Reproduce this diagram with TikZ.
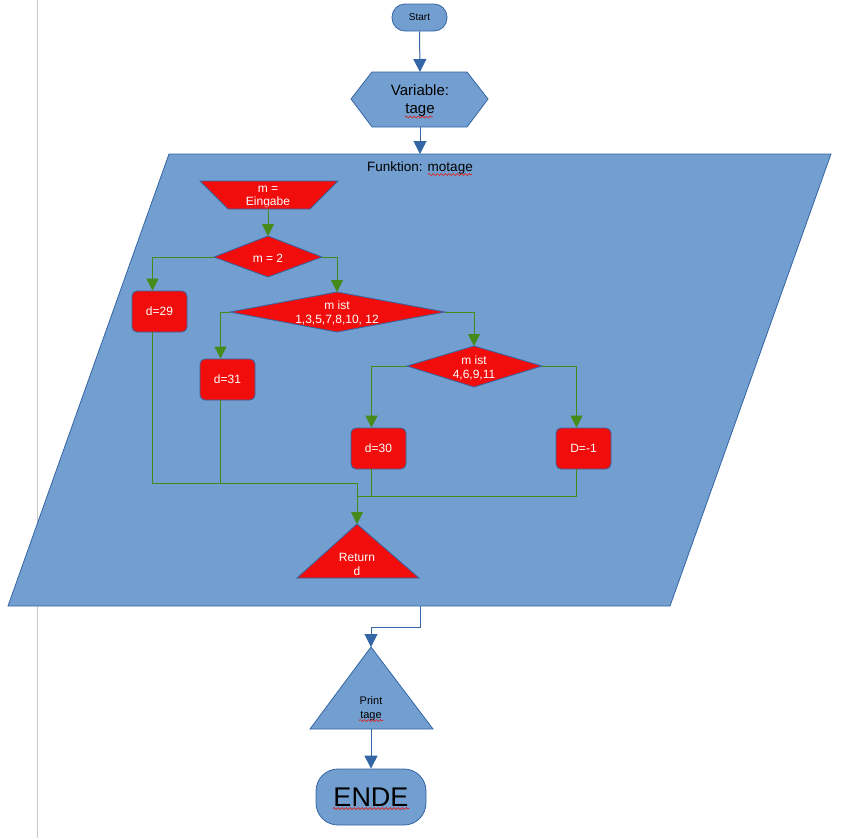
\documentclass[tikz,border=0pt]{standalone}
\usepackage{fontspec}
\setmainfont{Liberation Sans}
\usetikzlibrary{arrows.meta,decorations.pathmorphing}
\definecolor{bfill}{HTML}{729FCF}
\definecolor{bline}{HTML}{3465A4}
\definecolor{rfill}{HTML}{F10D0C}
\definecolor{gline}{HTML}{468A1A}
\definecolor{sqred}{HTML}{E0201B}
\tikzset{
  bshape/.style={fill=bfill,draw=bline,line width=0.8pt},
  rshape/.style={fill=rfill,draw=bline,line width=0.8pt},
  rbox/.style={rshape,rounded corners=5pt,minimum width=55pt,minimum height=41pt,inner sep=0pt,text=white,font=\fontsize{12}{13}\selectfont},
  wtext/.style={text=white,align=center,inner sep=0pt,font=\fontsize{12}{13.5}\selectfont},
  barrow/.style={draw=bline,line width=1pt,-{Triangle[width=13pt,length=13pt]}},
  bline/.style={draw=bline,line width=1pt},
  garrow/.style={draw=gline,line width=1pt,-{Triangle[width=12pt,length=12pt]}},
  gline/.style={draw=gline,line width=1pt},
  squig/.style={draw=sqred,line width=0.7pt,decorate,decoration={snake,amplitude=1pt,segment length=4pt}}
}
\begin{document}
\begin{tikzpicture}[x=1pt,y=-1pt]
\useasboundingbox (0,0) rectangle (849,838);
\fill[white] (0,0) rectangle (849,838);
\draw[black!22,line width=0.8pt] (37,0) -- (37,838);

% Start
\node[bshape,rounded corners=13pt,minimum width=55pt,minimum height=27pt,inner sep=0pt,font=\fontsize{10}{12}\selectfont] (start) at (419.5,17.5) {Start};

% Variable hexagon
\path[bshape] (351,99)--(372,72)--(467,72)--(488,99)--(467,127)--(372,127)--cycle;
\coordinate (vartop) at (420,72);
\coordinate (varbot) at (420,127);
\node[align=center,inner sep=0pt,font=\fontsize{15}{18}\selectfont] (var) at (420,101) {Variable:\\tage};
\draw[squig] (405,117) -- (433,117);
\draw[barrow] (start.south) -- (vartop);

% Function parallelogram
\path[bshape] (169,154)--(831,154)--(670,606)--(8,606)--cycle;
\coordinate (ftop) at (420,154);
\coordinate (fbot) at (420,606);
\node[inner sep=0pt,font=\fontsize{13.5}{15}\selectfont] (flabel) at (420,168) {Funktion: motage};
\draw[squig] (428,174.5) -- (472,174.5);
\draw[barrow] (varbot) -- (ftop);

% m = Eingabe
\path[rshape] (200,181)--(338,181)--(310,209)--(228,209)--cycle;
\coordinate (eintop) at (268,181);
\coordinate (einbot) at (268,209);
\node[wtext] (ein) at (268,197) {m =\\Eingabe};
\draw[squig] (247,207) -- (290,207);

% Diamond m = 2
\path[rshape] (214,257)--(268,236)--(322,257)--(268,277)--cycle;
\coordinate (d1top) at (268,236);
\coordinate (d1l) at (214,257);
\coordinate (d1r) at (322,257);
\node[wtext] (d1) at (268,258) {m = 2};
\draw[garrow] (einbot) -- (d1top);

% d=29
\node[rbox] (d29) at (159.5,311.5) {\raisebox{-1pt}{d=29}};

% Diamond 2
\path[rshape] (230,312)--(337,292)--(445,312)--(337,332)--cycle;
\coordinate (d2top) at (337,292);
\coordinate (d2l) at (230,312);
\coordinate (d2r) at (445,312);
\node[wtext] (d2) at (337,313) {m ist\\1,3,5,7,8,10, 12};

% d=31
\node[rbox] (d31) at (227.5,379.5) {\raisebox{-1pt}{d=31}};

% Diamond 3
\path[rshape] (407,366)--(474,346)--(542,366)--(474,387)--cycle;
\coordinate (d3top) at (474,346);
\coordinate (d3l) at (407,366);
\coordinate (d3r) at (542,366);
\node[wtext] (d3) at (474,368) {m ist\\4,6,9,11};

% d=30, D=-1
\node[rbox] (d30) at (378.5,448.5) {\raisebox{-1pt}{d=30}};
\node[rbox] (dm1) at (583.5,448.5) {\raisebox{-1pt}{D=-1}};

% Return triangle
\path[rshape] (357,524)--(419,578)--(297,578)--cycle;
\coordinate (rettop) at (357,524);
\node[wtext] (ret) at (357,564.5) {Return\\d};

% green connectors
\draw[garrow] (d1l) -| ([xshift=-7pt]d29.north);
\draw[garrow] (d1r) -| (d2top);
\draw[garrow] (d2l) -| ([xshift=-7pt]d31.north);
\draw[garrow] (d2r) -| (d3top);
\draw[garrow] (d3l) -| ([xshift=-7pt]d30.north);
\draw[garrow] (d3r) -| ([xshift=-7pt]dm1.north);

\coordinate (j1) at (357,483);
\coordinate (j2) at (371,496);
\draw[gline] ([xshift=-7pt]d29.south) |- (j1);
\draw[gline] ([xshift=-7pt]d31.south) |- (j1);
\draw[gline] ([xshift=-7pt]d30.south) |- (357,496);
\draw[gline] ([xshift=-7pt]dm1.south) |- (j2);
\draw[garrow] (j1) -- (rettop);

% Print triangle
\path[bshape] (371,647)--(433,729)--(310,729)--cycle;
\coordinate (prtop) at (371,647);
\coordinate (prbot) at (371,729);
\node[align=center,inner sep=0pt,font=\fontsize{11}{14}\selectfont] (pr) at (371,709) {Print\\tage};
\draw[squig] (359,720.5) -- (383,720.5);
\coordinate (k1) at (420,627);
\draw[barrow] (fbot) -- (k1) -| (prtop);

% ENDE
\node[bshape,rounded corners=22pt,minimum width=110pt,minimum height=56pt,inner sep=0pt,font=\fontsize{27}{30}\selectfont] (ende) at (371,797) {\raisebox{-1pt}{ENDE}};
\draw[squig] (333,808.5) -- (409,808.5);
\draw[barrow] (prbot) -- (ende.north);
\end{tikzpicture}
\end{document}
